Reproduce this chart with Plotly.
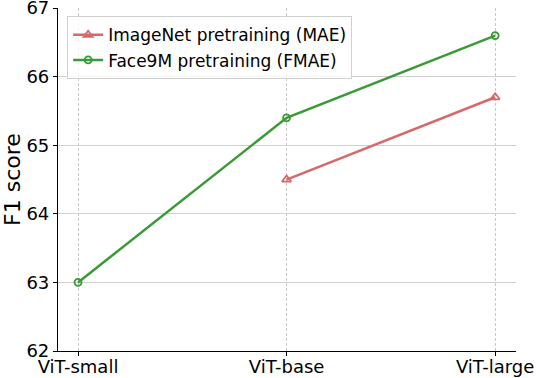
import plotly.graph_objects as go

# Data
models = ["ViT-small", "ViT-base", "ViT-large"]
mae_models = ["ViT-base", "ViT-large"]
mae_f1 = [64.5, 65.7]
fmae_f1 = [63.0, 65.4, 66.6]
y_ticks = [62, 63, 64, 65, 66, 67]

fig = go.Figure()

fig.add_trace(go.Scatter(
    x=[models.index(m) for m in mae_models], y=mae_f1,
    name="ImageNet pretraining (MAE)",
    mode="lines+markers",
    line=dict(color="#d66a6a", width=2.5),
    marker=dict(symbol="triangle-up-open", size=8, color="#d66a6a", line=dict(width=1.8)),
))
fig.add_trace(go.Scatter(
    x=list(range(len(models))), y=fmae_f1,
    name="Face9M pretraining (FMAE)",
    mode="lines+markers",
    line=dict(color="#3a9a35", width=2.5),
    marker=dict(symbol="circle-open", size=7, color="#3a9a35", line=dict(width=1.8)),
))

fig.update_layout(
    width=536, height=378,
    margin=dict(l=58, r=20, t=8, b=27),
    plot_bgcolor="white", paper_bgcolor="white",
    font=dict(family="DejaVu Sans", size=18, color="black"),
    showlegend=True,
    legend=dict(
        x=0.02, y=0.976, xanchor="left", yanchor="top",
        bgcolor="rgba(255,255,255,0.8)", bordercolor="#d0d0d0", borderwidth=1,
        font=dict(size=17), tracegroupgap=0,
    ),
)

fig.update_xaxes(
    range=[-0.096, 2.1],
    tickvals=list(range(len(models))), ticktext=models,
    showline=True, linecolor="black", linewidth=1.2,
    ticks="outside", ticklen=4, tickcolor="black",
    ticklabelstandoff=-5, ticklabeloverflow="allow",
    showgrid=True, gridcolor="#c8c8c8", griddash="3px,2px", gridwidth=0.8,
    zeroline=False, automargin=False,
)
fig.update_yaxes(
    range=[62, 67.002],
    tickvals=y_ticks, ticktext=[str(t) for t in y_ticks],
    title=dict(text="F1 score", standoff=10),
    showline=True, linecolor="black", linewidth=1.2,
    ticks="outside", ticklen=4, tickcolor="black",
    ticklabeloverflow="allow",
    showgrid=True, gridcolor="#d0d0d0", gridwidth=1,
    zeroline=False, automargin=False,
)

fig.write_html("out.html", config={"displayModeBar": False},
               post_script="document.body.style.margin='0';")
